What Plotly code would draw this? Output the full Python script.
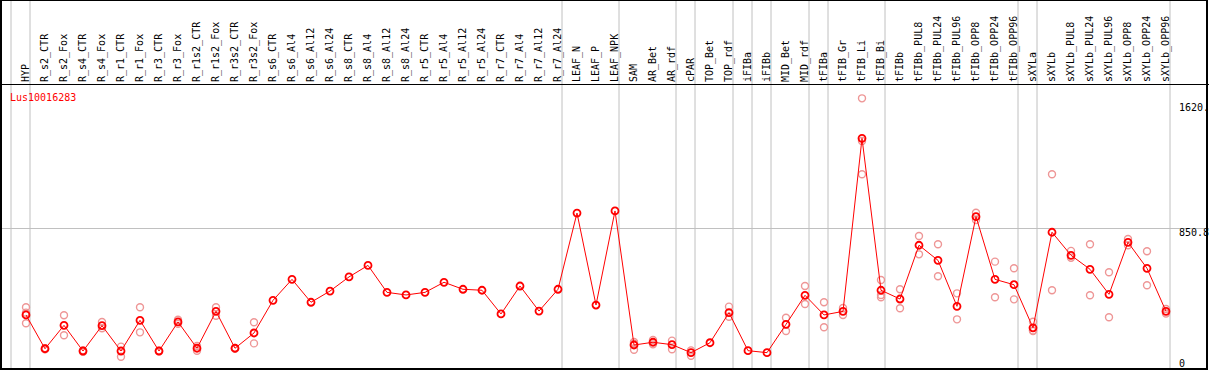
import plotly.graph_objects as go

categories = ["HYP", "R_s2_CTR", "R_s2_Fox", "R_s4_CTR", "R_s4_Fox", "R_r1_CTR", "R_r1_Fox",
              "R_r3_CTR", "R_r3_Fox", "R_r1s2_CTR", "R_r1s2_Fox", "R_r3s2_CTR", "R_r3s2_Fox",
              "R_s6_CTR", "R_s6_Al4", "R_s6_Al12", "R_s6_Al24", "R_s8_CTR", "R_s8_Al4",
              "R_s8_Al12", "R_s8_Al24", "R_r5_CTR", "R_r5_Al4", "R_r5_Al12", "R_r5_Al24",
              "R_r7_CTR", "R_r7_Al4", "R_r7_Al12", "R_r7_Al24", "LEAF_N", "LEAF_P", "LEAF_NPK",
              "SAM", "AR_Bet", "AR_rdf", "cPAR", "TOP_Bet", "TOP_rdf", "iFIBa", "iFIBb",
              "MID_Bet", "MID_rdf", "tFIBa", "tFIB_Gr", "tFIB_Li", "tFIB_Bi", "tFIBb",
              "tFIBb_PUL8", "tFIBb_PUL24", "tFIBb_PUL96", "tFIBb_OPP8", "tFIBb_OPP24",
              "tFIBb_OPP96", "sXYLa", "sXYLb", "sXYLb_PUL8", "sXYLb_PUL24", "sXYLb_PUL96",
              "sXYLb_OPP8", "sXYLb_OPP24", "sXYLb_OPP96"]

means = [316, 108, 252, 94, 250, 94, 283, 94, 273, 111, 338, 111, 205,
         406, 535, 394, 463, 550, 621, 455, 439, 455, 517, 474, 468,
         322, 494, 340, 474, 943, 377, 956,
         131, 148, 133, 84, 145, 330, 96, 84, 258, 437,
         316, 338, 1403, 468, 414, 745, 652, 369, 921, 535, 502,
         237, 825, 683, 597, 443, 763, 603, 338]

replicates = [[363, 330, 265], [112, 104], [314, 191], [98, 90], [273, 234], [121, 59],
              [363, 209], [96, 92], [286, 262], [96, 125], [363, 311], [113, 108], [271, 141],
              [], [], [], [], [], [], [], [], [], [], [], [], [], [], [], [], [], [], [],
              [150, 102, 140], [162, 135], [158, 105], [98, 65], [], [367, 305], [], [],
              [299, 217], [494, 383], [394, 240], [359, 316], [1649, 1387, 1182],
              [531, 439, 425], [474, 357], [802, 689], [751, 554], [449, 289], [945, 900],
              [644, 425], [603, 412], [274, 217, 221], [1182, 468], [710, 668], [751, 437],
              [579, 302], [783, 745], [708, 499], [353, 325]]

# last category index of each group (group separators)
group_ends = [-1, 0, 28, 31, 34, 35, 37, 38, 39, 41, 42, 45, 52, 53, 60]

title = "Lus10016283"
y_ticks = [1620.0, 850.8, 0]
y_tick_text = ["1620.", "850.8", "0"]

W, H = 1209, 370
TOP = 85
x_range = [-26 / 19, (W - 26) / 19]
y_range = [-22.8, 1731.1]
MONO = "DejaVu Sans Mono"

x_idx = list(range(len(categories)))
rep_x, rep_y = [], []
for i, reps in enumerate(replicates):
    for r in reps:
        rep_x.append(i)
        rep_y.append(r)

fig = go.Figure()
fig.add_trace(go.Scatter(
    x=rep_x, y=rep_y, mode="markers",
    marker=dict(symbol="circle-open", size=7, color="rgb(238,150,150)",
                line=dict(width=1.4, color="rgb(238,150,150)")),
    hoverinfo="skip", showlegend=False))
fig.add_trace(go.Scatter(
    x=x_idx, y=means, mode="lines+markers",
    line=dict(color="#ff0000", width=1),
    marker=dict(symbol="circle-open", size=7, color="#ff0000",
                line=dict(width=1.8, color="#ff0000")),
    showlegend=False))

top_paper = H / (H - TOP)
shapes = []
span = x_range[1] - x_range[0]
for g in group_ends:
    xp = (g + 4 / 19 - x_range[0]) / span
    shapes.append(dict(type="line", xref="paper", yref="paper", x0=xp, x1=xp,
                       y0=0, y1=top_paper, line=dict(color="#c0c0c0", width=1),
                       layer="below"))
# outer frame
shapes.append(dict(type="rect", xref="paper", yref="paper",
                   x0=1 / W, x1=1207 / W, y0=1 / (H - TOP), y1=top_paper,
                   line=dict(color="black", width=2), fillcolor="rgba(0,0,0,0)",
                   layer="above"))

annotations = [dict(text=title, xref="paper", yref="paper", x=8 / W, xanchor="left",
                    y=1 - 5 / (H - TOP), yanchor="top", showarrow=False,
                    font=dict(family=MONO, size=10, color="#ff0000"))]
for v, t in zip(y_ticks, y_tick_text):
    annotations.append(dict(text=t, xref="paper", yref="y", x=1177 / W, xanchor="left",
                            y=v, yanchor="bottom" if v == 0 else "top",
                            yshift=-5 if v == 0 else 3,
                            showarrow=False, font=dict(family=MONO, size=10, color="black")))

fig.update_layout(
    width=W, height=H,
    margin=dict(l=0, r=0, t=TOP, b=0, pad=0),
    paper_bgcolor="white", plot_bgcolor="rgba(0,0,0,0)",
    shapes=shapes, annotations=annotations,
    xaxis=dict(range=x_range, side="top", tickmode="array", tickvals=x_idx,
               ticktext=categories, tickangle=-90, ticks="", showgrid=False,
               zeroline=False, showline=True, linecolor="black", linewidth=1,
               tickfont=dict(family=MONO, size=10, color="black"), automargin=False,
               fixedrange=True),
    yaxis=dict(range=y_range, tickvals=[850.8], showticklabels=False, showgrid=True,
               gridcolor="#c0c0c0", gridwidth=1, zeroline=False, automargin=False,
               fixedrange=True),
)

fig.write_html("out.html", config={"displayModeBar": False},
               post_script="document.body.style.margin='0';document.body.style.overflow='hidden';")
